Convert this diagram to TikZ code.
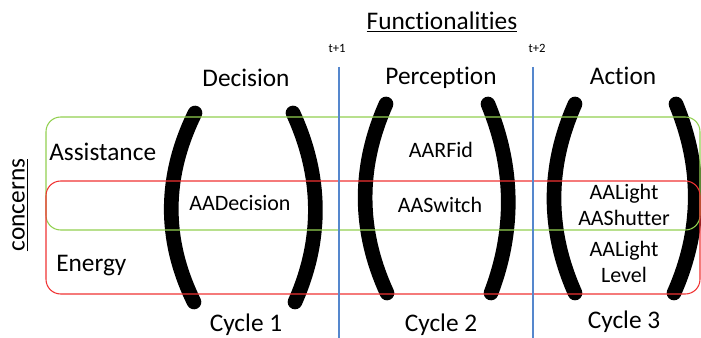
\documentclass[tikz,border=0pt]{standalone}
\usepackage{fontspec}
\setmainfont{Carlito}[Ligatures=NoCommon]
\usetikzlibrary{positioning}
\definecolor{bandgreen}{RGB}{146,208,80}
\definecolor{bandred}{RGB}{240,50,50}
\definecolor{tickblue}{RGB}{85,135,205}
\tikzset{head/.style={inner sep=0pt,font=\fontsize{19}{21}\selectfont},sub/.style={inner sep=0pt,align=center,font=\fontsize{16.5}{19}\selectfont},tlabel/.style={inner sep=0pt,font=\fontsize{9.5}{11}\selectfont},paren/.style={line width=11pt,line cap=round},band/.style={rounded corners=11pt,line width=0.8pt},tick/.style={tickblue,line width=0.8pt}}

\begin{document}
\begin{tikzpicture}[x=0.75pt,y=-0.75pt]
\useasboundingbox (0,0) rectangle (701,338);
% parentheses of the three cycles
\draw[paren] (195,113) .. controls (164,176) and (163,239) .. (194,302);
\draw[paren] (293,113) .. controls (322,176) and (323,239) .. (295,302);
\draw[paren] (386,104) .. controls (358,167) and (358,230) .. (387,293);
\draw[paren] (488,104) .. controls (514,167) and (515,230) .. (491,293);
\draw[paren] (575,104) .. controls (547,167) and (547,230) .. (575,293);
\draw[paren] (676,104) .. controls (702,167) and (702,230) .. (674,293);
% concern bands
\draw[band,bandgreen] (46,117) rectangle (700,230);
\draw[band,bandred] (46,181) rectangle (700,294);
% time steps
\node[tlabel] (t1) at (337,48) {t+1};
\node[tlabel] (t2) at (537,48) {t+2};
\coordinate (t1top) at (339,67);
\coordinate (t1bot) at (339,338);
\coordinate (t2top) at (533,67);
\coordinate (t2bot) at (533,338);
\draw[tick] (t1top) -- (t1bot);
\draw[tick] (t2top) -- (t2bot);
% headings
\node[head] (func) at (442,22) {\underline{Functionalities}};
\node[head] (dec) at (246,78) {Decision};
\node[head] (per) at (441,78) {Perception};
\node[head] (act) at (623,76) {Action};
\node[head,anchor=west] (ass) at (49,152) {Assistance};
\node[head,anchor=west] (ene) at (56,266) {Energy};
\node[head,rotate=90] (con) at (20,205) {\underline{concerns}};
% components
\node[sub] (aadec) at (240,203) {AADecision};
\node[sub] (aarfid) at (441,150) {AARFid};
\node[sub] (aaswitch) at (440,205) {AASwitch};
\node[sub] (aashut) at (624,205) {AALight\\AAShutter};
\node[sub,font=\fontsize{16.5}{20}\selectfont] (aalevel) at (624,262) {AALight\\Level};
% cycles
\node[head] (cyc1) at (246,325) {Cycle 1};
\node[head] (cyc2) at (441,325) {Cycle 2};
\node[head] (cyc3) at (624,322) {Cycle 3};
\end{tikzpicture}
\end{document}
